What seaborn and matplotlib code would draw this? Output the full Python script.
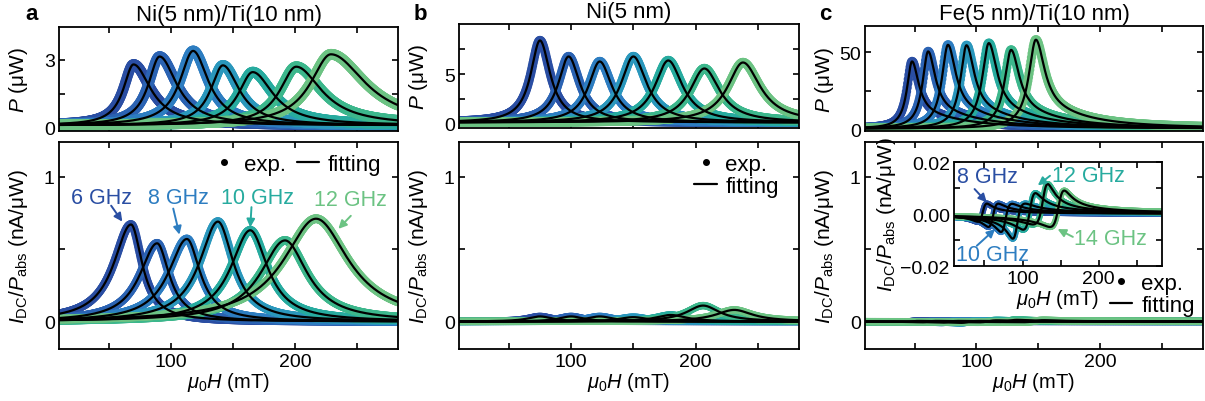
import numpy as np
import pandas as pd
import matplotlib
matplotlib.use("Agg")
import matplotlib.pyplot as plt
import seaborn as sns
from matplotlib.lines import Line2D

# field range of every panel (mT)
H_min, H_max = 10, 283

colors = ["#2a4ea3", "#2b63b3", "#2d7dc1", "#2a97bc", "#27ab9f", "#3cb78c", "#6cc383"]

# ---- a: Ni(5 nm)/Ti(10 nm), 6..12 GHz
a_freq = [6, 7, 8, 9, 10, 11, 12]
a_P_H0 = [70, 91, 118, 142, 166, 201, 229]
a_P_peak = [2.70, 3.05, 3.30, 2.66, 2.36, 2.60, 3.15]
a_P_wl = [10, 11, 13, 12, 14, 16, 20]
a_P_wr = [17, 17, 15, 16, 20, 25, 34]
a_I_H0 = [68, 89, 113, 138, 164, 192, 217]
a_I_peak = [0.67, 0.54, 0.57, 0.69, 0.63, 0.56, 0.71]
a_I_wl = [17, 17, 18, 18, 19, 24, 32]
a_I_wr = [11, 12, 13, 15, 17, 22, 32]

# ---- b: Ni(5 nm), 6..12 GHz
b_freq = [6, 7, 8, 9, 10, 11, 12]
b_P_H0 = [75, 98, 123, 150, 178, 207, 238]
b_P_peak = [8.2, 6.6, 6.1, 6.6, 6.2, 5.4, 6.0]
b_P_wl = [9, 10, 11, 12, 13, 14, 15]
b_P_wr = [10, 11, 12, 13, 14, 15, 17]
b_I_H0 = [75, 100, 123, 150, 180, 206, 231]
b_I_peak = [0.035, 0.035, 0.035, 0.03, 0.045, 0.11, 0.08]
b_I_w = [12, 12, 13, 14, 15, 16, 18]

# ---- c: Fe(5 nm)/Ti(10 nm), 8..14 GHz
c_freq = [8, 9, 10, 11, 12, 13, 14]
c_P_H0 = [48, 61, 77, 92, 110, 128, 148]
c_P_peak = [43.5, 50.0, 54.3, 54.0, 55.4, 51.0, 57.6]
c_P_wl = [5, 5.5, 6, 6, 6.5, 6.5, 7]
c_P_wr = [6.5, 7, 7.5, 7.5, 8, 8, 8.5]
c_P_tail = [0.2, 0.2, 0.2, 0.2, 0.2, 0.2, 0.2]
c_I_S = [0.001, -0.001, -0.003, -0.0055, 0.002, 0.0075, 0.004]
c_I_A = [0.0069, 0.0089, 0.0104, 0.0123, 0.0139, 0.0136, 0.0134]
c_I_w = [6, 6.5, 7, 7.5, 8, 8.5, 9]


def split_lorentz(H, H0, peak, wl, wr, tail=0.0, wt=45.0):
    d = H - H0
    left = wl**2 / (d**2 + wl**2)
    right = (1 - tail) * wr**2 / (d**2 + wr**2) + tail * wt**2 / (d**2 + wt**2)
    return peak * np.where(d < 0, left, right)


def mixed_lorentz(H, H0, S, A, w):
    d = H - H0
    return (S * w**2 + A * w * d) / (d**2 + w**2)


def make_df(H, ys, freqs):
    return pd.concat([pd.DataFrame({"H": H, "val": y, "f": f"{f} GHz"})
                      for y, f in zip(ys, freqs)], ignore_index=True)


def draw(ax, curve_fn, freqs, s, base=0.0):
    Hd = np.arange(H_min, H_max + 0.5, 0.5)
    Hf = np.arange(H_min, H_max + 0.2, 0.2)
    exp = make_df(Hd, [curve_fn(Hd, k) + base for k in range(7)], freqs)
    fit = make_df(Hf, [curve_fn(Hf, k) + base for k in range(7)], freqs)
    sns.scatterplot(data=exp, x="H", y="val", hue="f", palette=colors,
                    s=s, linewidth=0, legend=False, ax=ax)
    sns.lineplot(data=fit, x="H", y="val", units="f", estimator=None,
                 color="black", lw=1.6, legend=False, ax=ax)


sns.set_style("ticks", {"axes.edgecolor": "black", "text.color": "black",
                        "axes.labelcolor": "black", "xtick.color": "black",
                        "ytick.color": "black"})
plt.rcParams["font.family"] = ["Liberation Sans", "DejaVu Sans"]
plt.rcParams["mathtext.fontset"] = "custom"
plt.rcParams["mathtext.rm"] = "Liberation Sans"
plt.rcParams["mathtext.it"] = "Liberation Sans:italic"
plt.rcParams["axes.linewidth"] = 1.3

fig = plt.figure(figsize=(12.05, 4.02), dpi=100)
W, HP = 1205, 402


def add_ax(l, t, r, b):
    return fig.add_axes([l / W, 1 - b / HP, (r - l) / W, (b - t) / HP])


def style(ax, yticks, ylabels, xlab=True, fs=14):
    ax.set_xlim(H_min, H_max)
    ax.set_xticks([50, 100, 150, 200, 250])
    ax.set_xticklabels(["", "100", "", "200", ""] if xlab else [""] * 5)
    ax.set_yticks(yticks)
    ax.set_yticklabels(ylabels)
    ax.tick_params(direction="in", top=True, right=True, length=4, width=1.2,
                   labelsize=fs, pad=3, colors="black")
    ax.set_xlabel("")
    ax.set_ylabel("")


def arrow(ax, txt, col, tx, ty, x0, y0, x1, y1):
    ax.text(tx, ty, txt, color=col, fontsize=15.5, ha="center", va="center")
    ax.annotate("", xy=(x1, y1), xytext=(x0, y0),
                arrowprops=dict(arrowstyle="-|>", color=col, lw=1.4,
                                mutation_scale=12, shrinkA=0, shrinkB=0))


ylab_P = r"$P$ (μW)"
ylab_I = r"$I_{\mathrm{DC}}/P_{\mathrm{abs}}$ (nA/μW)"
xlab_H = r"$\mu_0H$ (mT)"

titles = {"a": "Ni(5 nm)/Ti(10 nm)", "b": "Ni(5 nm)", "c": "Fe(5 nm)/Ti(10 nm)"}
leg_handles = [Line2D([], [], marker="o", ls="none", color="black", ms=4),
               Line2D([], [], color="black", lw=1.6)]
leg_kw = dict(frameon=False, fontsize=16, handlelength=1.0, handletextpad=0.4)

# ---------------- a
ax = add_ax(59, 28, 398, 132)
draw(ax, lambda H, k: split_lorentz(H, a_P_H0[k], a_P_peak[k], a_P_wl[k], a_P_wr[k]),
     a_freq, 60, base=0.1)
ax.set_ylim(-0.15, 4.46)
style(ax, [0, 1.5, 3], ["0", "", "3"], xlab=False)
ax.set_title(titles["a"], fontsize=16, pad=5)
ax.set_ylabel(ylab_P, fontsize=15)
ax.yaxis.set_label_coords(-0.085, 0.5)

ax = add_ax(59, 143, 398, 350)
draw(ax, lambda H, k: split_lorentz(H, a_I_H0[k], a_I_peak[k], a_I_wl[k], a_I_wr[k]),
     a_freq, 40, base=0.0)
ax.set_ylim(-0.19, 1.24)
style(ax, [0, 0.5, 1], ["0", "", "1"])
ax.set_ylabel(ylab_I, fontsize=15)
ax.yaxis.set_label_coords(-0.085, 0.5)
ax.set_xlabel(xlab_H, fontsize=14.5, labelpad=0)
arrow(ax, "6 GHz", colors[0], 44, 0.86, 52, 0.80, 61, 0.69)
arrow(ax, "8 GHz", colors[2], 106, 0.86, 102, 0.78, 107, 0.60)
arrow(ax, "10 GHz", colors[4], 170, 0.86, 165, 0.79, 164, 0.65)
arrow(ax, "12 GHz", colors[6], 245, 0.84, 245, 0.73, 235, 0.64)
ax.legend(leg_handles, ["exp.", "fitting"], ncol=2, loc="upper right",
          bbox_to_anchor=(1.01, 1.04), columnspacing=0.5, **leg_kw)

# ---------------- b
ax = add_ax(459, 25, 799, 129)
draw(ax, lambda H, k: split_lorentz(H, b_P_H0[k], b_P_peak[k], b_P_wl[k], b_P_wr[k]),
     b_freq, 45, base=0.15)
ax.set_ylim(-0.4, 10.0)
style(ax, [0, 2.5, 5, 7.5], ["0", "", "5", ""], xlab=False)
ax.set_title(titles["b"], fontsize=16, pad=5)
ax.set_ylabel(ylab_P, fontsize=15)
ax.yaxis.set_label_coords(-0.085, 0.5)

ax = add_ax(459, 143, 799, 350)
draw(ax, lambda H, k: split_lorentz(H, b_I_H0[k], b_I_peak[k], b_I_w[k], b_I_w[k]),
     b_freq, 28, base=0.0)
ax.set_ylim(-0.19, 1.24)
style(ax, [0, 0.5, 1], ["0", "", "1"])
ax.set_ylabel(ylab_I, fontsize=15)
ax.yaxis.set_label_coords(-0.085, 0.5)
ax.set_xlabel(xlab_H, fontsize=14.5, labelpad=0)
ax.legend(leg_handles, ["exp.", "fitting"], loc="upper right",
          bbox_to_anchor=(1.0, 1.04), labelspacing=0.05, **leg_kw)

# ---------------- c
ax = add_ax(865, 27, 1203, 132)
draw(ax, lambda H, k: split_lorentz(H, c_P_H0[k], c_P_peak[k], c_P_wl[k], c_P_wr[k],
                                    tail=c_P_tail[k]),
     c_freq, 45, base=0.5)
ax.set_ylim(-1.1, 67)
style(ax, [0, 25, 50], ["0", "", "50"], xlab=False)
ax.set_title(titles["c"], fontsize=16, pad=5)
ax.set_ylabel(ylab_P, fontsize=15)
ax.yaxis.set_label_coords(-0.085, 0.5)

ax = add_ax(865, 143, 1203, 350)
draw(ax, lambda H, k: mixed_lorentz(H, c_P_H0[k], c_I_S[k], c_I_A[k], c_I_w[k]),
     c_freq, 28, base=0.0)
ax.set_ylim(-0.19, 1.24)
style(ax, [0, 0.5, 1], ["0", "", "1"])
ax.set_ylabel(ylab_I, fontsize=15)
ax.yaxis.set_label_coords(-0.085, 0.5)
ax.set_xlabel(xlab_H, fontsize=14.5, labelpad=0)
ax.legend(leg_handles, ["exp.", "fitting"], loc="upper right",
          bbox_to_anchor=(1.035, 0.465), labelspacing=0.05, **leg_kw)

ins = add_ax(954, 163, 1162, 267)
draw(ins, lambda H, k: mixed_lorentz(H, c_P_H0[k], c_I_S[k], c_I_A[k], c_I_w[k]),
     c_freq, 20, base=0.0)
ins.set_ylim(-0.02, 0.02)
style(ins, [-0.02, -0.01, 0, 0.01, 0.02], ["−0.02", "", "0.00", "", "0.02"])
ins.set_ylabel(ylab_I, fontsize=15, labelpad=2)
ins.set_xlabel(xlab_H, fontsize=14.5, labelpad=0)
arrow(ins, "8 GHz", colors[0], 54, 0.0143, 37, 0.0096, 53, 0.0045)
arrow(ins, "10 GHz", colors[2], 61, -0.0154, 40, -0.0122, 64, -0.0058)
arrow(ins, "12 GHz", colors[4], 186, 0.0147, 136, 0.0147, 120, 0.0110)
arrow(ins, "14 GHz", colors[6], 215, -0.0096, 166, -0.0088, 146, -0.0058)

for letter, x in [("a", 32), ("b", 420), ("c", 825)]:
    fig.text(x / W, 1 - 15 / HP, letter, fontsize=16, fontweight="bold",
             ha="center", va="center")

fig.savefig("out.png", dpi=100)
